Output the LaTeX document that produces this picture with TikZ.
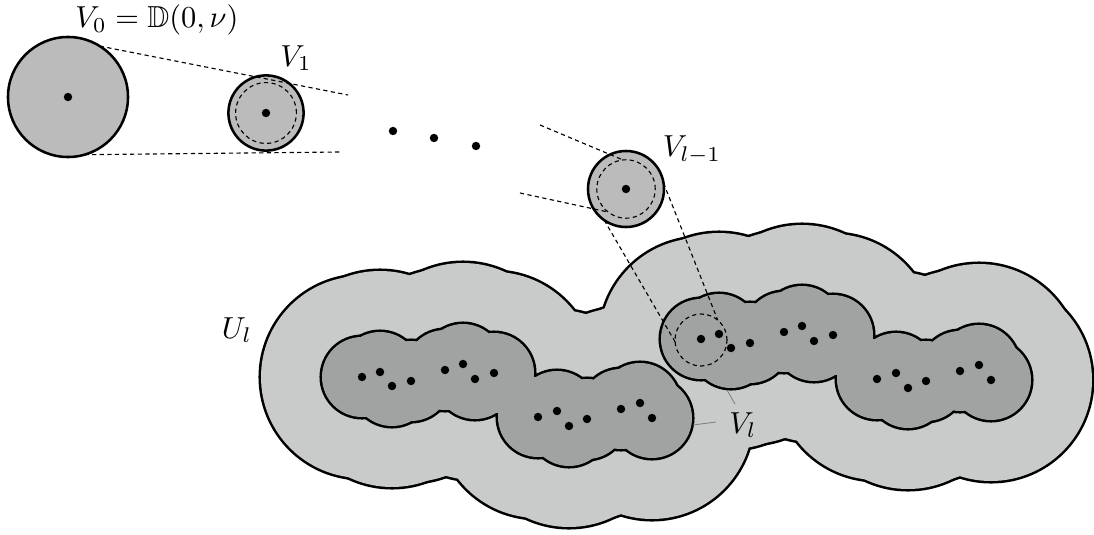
\documentclass[tikz,border=0pt]{standalone}
\usepackage{amssymb}
\usepackage{xcolor}
\usetikzlibrary{calc}

\definecolor{diskgray}{RGB}{187,187,187}
\definecolor{ulgray}{RGB}{201,202,202}
\definecolor{vlgray}{RGB}{161,162,162}

\tikzset{
  disk/.style={circle,draw,line width=0.9pt,fill=diskgray,inner sep=0pt,outer sep=0pt},
  ring/.style={circle,draw,line width=0.4pt,dash pattern=on 1.5pt off 1.2pt,inner sep=0pt,outer sep=0pt},
  pt/.style={circle,fill,inner sep=0pt,minimum size=3pt},
  link/.style={line width=0.4pt,dash pattern=on 1.5pt off 1.2pt},
  leader/.style={gray,line width=0.3pt},
  lab/.style={scale=1.08}
}

% points of one piece of V_l (the other piece is shifted)
\def\cloudpts{362/377,380/372,392/386,411/381,445/370,463/364,475/379,494/373,
  538/417,557/411,569/426,587/419,621/409,640/403,652/418}

\begin{document}
\begin{tikzpicture}[x=0.0125cm,y=-0.0125cm]
		\useasboundingbox (0,0) rectangle (1094,534);

		% U_l : union of big disks
		\foreach \dx/\dy in {0/0,339/-38}
			\foreach \x/\y in \cloudpts
				\draw [line width=1.8pt] (\x+\dx,\y+\dy) circle (101);
		\foreach \dx/\dy in {0/0,339/-38}
			\foreach \x/\y in \cloudpts
				\fill [ulgray] (\x+\dx,\y+\dy) circle (101);

		% V_l : union of small disks
		\foreach \dx/\dy in {0/0,339/-38}
			\foreach \x/\y in \cloudpts
				\draw [line width=1.8pt] (\x+\dx,\y+\dy) circle (40);
		\foreach \dx/\dy in {0/0,339/-38}
			\foreach \x/\y in \cloudpts
				\fill [vlgray] (\x+\dx,\y+\dy) circle (40);
		\foreach \dx/\dy in {0/0,339/-38}
			\foreach \x/\y in \cloudpts
				\node [pt] at (\x+\dx,\y+\dy) {};

		\node [disk,minimum size=1.5cm] (V0) at (68,97) {};
		\node [disk,minimum size=0.94cm] (V1) at (266,113) {};
		\node [ring,minimum size=0.76cm] (V1in) at (266,113) {};
		\node [disk,minimum size=0.95cm] (Vlm) at (626,189) {};
		\node [ring,minimum size=0.73cm] (Vlmin) at (626,189) {};
		\node [ring,minimum size=0.65cm] (Vlin) at (701,340) {};

		\node [pt] (p0) at (V0) {};
		\node [pt] (p1) at (V1) {};
		\node [pt] (pm) at (Vlm) {};
		\node [pt] (d1) at (393,131) {};
		\node [pt] (d2) at (434,138) {};
		\node [pt] (d3) at (476,146) {};

		\coordinate (c01) at (348,95);
		\coordinate (c02) at (340,152);
		\coordinate (c03) at (540,125);
		\coordinate (c04) at (520,193);
		\draw [link] (V0.58) to (c01);
		\draw [link] (V0.-74) to (c02);
		\draw [link] (c03) to (Vlmin.96);
		\draw [link] (c04) to (Vlmin.232);
		\draw [link] (Vlm.9) to (Vlin.50);
		\draw [link] (Vlm.235) to (Vlin.184);

		\node [lab] (lV0) at (157,20) {$V_0=\mathbb{D}(0,\nu)$};
		\node [lab] (lV1) at (296,58) {$V_1$};
		\node [lab] (lVlm) at (692,150) {$V_{l-1}$};
		\node [lab] (lUl) at (237,330) {$U_l$};
		\node [lab] (lVl) at (743,425) {$V_l$};

		\coordinate (e1) at (693,425);
		\coordinate (e2) at (716,422);
		\coordinate (e3) at (727,390);
		\coordinate (e4) at (735,404);
		\draw [leader] (e1) to (e2);
		\draw [leader] (e3) to (e4);
\end{tikzpicture}
\end{document}
